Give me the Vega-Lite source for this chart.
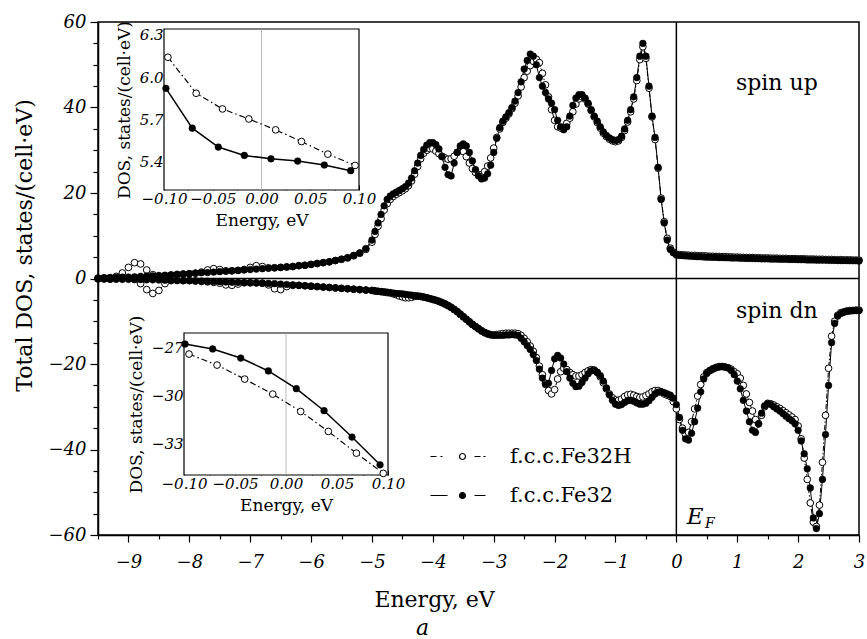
{
"$schema":"https://vega.github.io/schema/vega-lite/v6.json",
"width":761,"height":513,
"autosize":{"type":"none"},
"padding":{"left":98,"top":22,"right":8,"bottom":104},
"background":"white",
"config":{
 "font":"DejaVu Serif",
 "view":{"stroke":"black","strokeWidth":1.5},
 "axis":{"grid":false,"domainColor":"black","tickColor":"black","labelColor":"black","titleColor":"black","titleFontWeight":"normal","labelFont":"DejaVu Serif","titleFont":"DejaVu Serif","zindex":1,"labelOverlap":false,"labelFlush":false}
},
"title":{"text":"a","orient":"bottom","anchor":"middle","fontStyle":"italic","fontWeight":"normal","fontSize":22,"font":"DejaVu Serif","offset":8,"dx":-56,"color":"black"},
"datasets":{
"main":[
{"e":-9.5,"a":0.1,"b":0.1,"c":-0.1,"d":-0.1},
{"e":-9.4,"a":0.15,"b":0.15,"c":-0.1,"d":-0.1},
{"e":-9.3,"a":0.2,"b":0.2,"c":-0.15,"d":-0.15},
{"e":-9.2,"a":0.25,"b":0.5,"c":-0.15,"d":-0.1},
{"e":-9.1,"a":0.3,"b":1.3,"c":-0.2,"d":0.0},
{"e":-9.0,"a":0.35,"b":2.6,"c":-0.2,"d":0.1},
{"e":-8.9,"a":0.4,"b":3.7,"c":-0.25,"d":-0.2},
{"e":-8.8,"a":0.5,"b":3.4,"c":-0.25,"d":-1.2},
{"e":-8.7,"a":0.55,"b":2.0,"c":-0.3,"d":-2.6},
{"e":-8.6,"a":0.6,"b":0.9,"c":-0.3,"d":-3.5},
{"e":-8.5,"a":0.7,"b":0.6,"c":-0.35,"d":-2.8},
{"e":-8.4,"a":0.75,"b":0.7,"c":-0.4,"d":-1.2},
{"e":-8.3,"a":0.85,"b":0.8,"c":-0.4,"d":-0.5},
{"e":-8.2,"a":0.95,"b":0.95,"c":-0.45,"d":-0.45},
{"e":-8.1,"a":1.05,"b":1.05,"c":-0.5,"d":-0.5},
{"e":-8.0,"a":1.15,"b":1.1,"c":-0.5,"d":-0.5},
{"e":-7.9,"a":1.25,"b":1.25,"c":-0.55,"d":-0.6},
{"e":-7.8,"a":1.35,"b":1.5,"c":-0.6,"d":-0.7},
{"e":-7.7,"a":1.4,"b":2.0,"c":-0.65,"d":-0.8},
{"e":-7.6,"a":1.5,"b":2.3,"c":-0.7,"d":-0.9},
{"e":-7.5,"a":1.6,"b":2.1,"c":-0.75,"d":-1.1},
{"e":-7.4,"a":1.7,"b":1.8,"c":-0.8,"d":-1.5},
{"e":-7.3,"a":1.8,"b":1.8,"c":-0.85,"d":-1.6},
{"e":-7.2,"a":1.9,"b":1.9,"c":-0.9,"d":-1.3},
{"e":-7.1,"a":2.0,"b":2.1,"c":-0.95,"d":-1.0},
{"e":-7.0,"a":2.1,"b":2.6,"c":-1.0,"d":-1.0},
{"e":-6.9,"a":2.2,"b":3.0,"c":-1.05,"d":-1.0},
{"e":-6.8,"a":2.3,"b":2.8,"c":-1.1,"d":-1.1},
{"e":-6.7,"a":2.4,"b":2.5,"c":-1.15,"d":-1.5},
{"e":-6.6,"a":2.5,"b":2.5,"c":-1.2,"d":-2.4},
{"e":-6.5,"a":2.6,"b":2.6,"c":-1.3,"d":-2.6},
{"e":-6.4,"a":2.7,"b":2.7,"c":-1.4,"d":-1.9},
{"e":-6.3,"a":2.8,"b":2.8,"c":-1.5,"d":-1.6},
{"e":-6.2,"a":3.0,"b":3.0,"c":-1.6,"d":-1.6},
{"e":-6.1,"a":3.1,"b":3.1,"c":-1.7,"d":-1.7},
{"e":-6.0,"a":3.3,"b":3.3,"c":-1.8,"d":-1.8},
{"e":-5.9,"a":3.5,"b":3.5,"c":-1.9,"d":-1.9},
{"e":-5.8,"a":3.7,"b":3.7,"c":-2.0,"d":-2.0},
{"e":-5.7,"a":3.9,"b":3.9,"c":-2.1,"d":-2.1},
{"e":-5.6,"a":4.2,"b":4.2,"c":-2.2,"d":-2.2},
{"e":-5.5,"a":4.5,"b":4.5,"c":-2.3,"d":-2.3},
{"e":-5.4,"a":4.9,"b":4.8,"c":-2.4,"d":-2.4},
{"e":-5.3,"a":5.4,"b":5.3,"c":-2.5,"d":-2.5},
{"e":-5.2,"a":6.0,"b":5.9,"c":-2.6,"d":-2.6},
{"e":-5.1,"a":7.0,"b":6.8,"c":-2.7,"d":-2.7},
{"e":-5.0,"a":9.0,"b":8.5,"c":-2.8,"d":-2.8},
{"e":-4.95,"a":11.0,"b":10.3,"c":-2.9,"d":-2.9},
{"e":-4.9,"a":13.0,"b":12.2,"c":-3.0,"d":-3.0},
{"e":-4.85,"a":15.0,"b":14.0,"c":-3.05,"d":-3.1},
{"e":-4.8,"a":17.0,"b":16.0,"c":-3.1,"d":-3.2},
{"e":-4.75,"a":18.5,"b":17.5,"c":-3.2,"d":-3.3},
{"e":-4.7,"a":19.3,"b":18.5,"c":-3.3,"d":-3.4},
{"e":-4.65,"a":19.8,"b":19.2,"c":-3.4,"d":-3.6},
{"e":-4.6,"a":20.2,"b":19.7,"c":-3.5,"d":-3.8},
{"e":-4.55,"a":20.6,"b":20.1,"c":-3.55,"d":-4.1},
{"e":-4.5,"a":21.0,"b":20.5,"c":-3.6,"d":-4.3},
{"e":-4.45,"a":21.5,"b":21.0,"c":-3.7,"d":-4.5},
{"e":-4.4,"a":22.3,"b":21.7,"c":-3.8,"d":-4.5},
{"e":-4.35,"a":23.5,"b":22.8,"c":-3.9,"d":-4.4},
{"e":-4.3,"a":25.2,"b":24.4,"c":-4.0,"d":-4.2},
{"e":-4.25,"a":27.0,"b":26.2,"c":-4.1,"d":-4.1},
{"e":-4.2,"a":28.8,"b":28.0,"c":-4.2,"d":-4.2},
{"e":-4.15,"a":30.2,"b":29.3,"c":-4.35,"d":-4.35},
{"e":-4.1,"a":31.2,"b":30.0,"c":-4.5,"d":-4.5},
{"e":-4.05,"a":31.8,"b":30.4,"c":-4.7,"d":-4.7},
{"e":-4.0,"a":31.8,"b":30.3,"c":-4.9,"d":-4.9},
{"e":-3.95,"a":31.3,"b":29.8,"c":-5.1,"d":-5.1},
{"e":-3.9,"a":30.3,"b":29.2,"c":-5.4,"d":-5.3},
{"e":-3.85,"a":28.5,"b":28.6,"c":-5.7,"d":-5.6},
{"e":-3.8,"a":26.0,"b":28.2,"c":-6.0,"d":-5.9},
{"e":-3.75,"a":24.3,"b":27.9,"c":-6.4,"d":-6.3},
{"e":-3.7,"a":24.0,"b":28.0,"c":-6.8,"d":-6.7},
{"e":-3.65,"a":27.0,"b":28.6,"c":-7.3,"d":-7.2},
{"e":-3.6,"a":29.5,"b":29.5,"c":-7.8,"d":-7.7},
{"e":-3.55,"a":31.0,"b":30.0,"c":-8.4,"d":-8.3},
{"e":-3.5,"a":31.5,"b":29.7,"c":-9.0,"d":-8.9},
{"e":-3.45,"a":31.0,"b":28.5,"c":-9.6,"d":-9.5},
{"e":-3.4,"a":29.5,"b":27.0,"c":-10.2,"d":-10.1},
{"e":-3.35,"a":27.5,"b":25.7,"c":-10.8,"d":-10.7},
{"e":-3.3,"a":25.5,"b":24.8,"c":-11.3,"d":-11.2},
{"e":-3.25,"a":24.0,"b":24.3,"c":-11.8,"d":-11.7},
{"e":-3.2,"a":23.3,"b":24.3,"c":-12.3,"d":-12.2},
{"e":-3.15,"a":23.5,"b":25.0,"c":-12.7,"d":-12.6},
{"e":-3.1,"a":24.5,"b":26.3,"c":-13.0,"d":-12.9},
{"e":-3.05,"a":26.5,"b":28.2,"c":-13.2,"d":-13.1},
{"e":-3.0,"a":29.5,"b":30.5,"c":-13.3,"d":-13.2},
{"e":-2.95,"a":32.8,"b":33.0,"c":-13.3,"d":-13.1},
{"e":-2.9,"a":35.3,"b":35.0,"c":-13.3,"d":-13.0},
{"e":-2.85,"a":36.8,"b":36.5,"c":-13.3,"d":-12.9},
{"e":-2.8,"a":37.8,"b":37.5,"c":-13.2,"d":-12.8},
{"e":-2.75,"a":38.8,"b":38.5,"c":-13.2,"d":-12.8},
{"e":-2.7,"a":40.0,"b":39.7,"c":-13.1,"d":-12.8},
{"e":-2.65,"a":41.5,"b":41.0,"c":-13.2,"d":-12.8},
{"e":-2.6,"a":43.5,"b":42.7,"c":-13.3,"d":-12.9},
{"e":-2.55,"a":46.0,"b":44.8,"c":-14.0,"d":-13.3},
{"e":-2.5,"a":49.0,"b":47.0,"c":-14.8,"d":-14.0},
{"e":-2.45,"a":51.0,"b":48.5,"c":-15.7,"d":-14.8},
{"e":-2.4,"a":52.5,"b":49.8,"c":-16.6,"d":-15.8},
{"e":-2.35,"a":52.0,"b":50.8,"c":-17.8,"d":-17.0},
{"e":-2.3,"a":50.0,"b":51.3,"c":-19.2,"d":-18.5},
{"e":-2.25,"a":47.0,"b":50.5,"c":-21.2,"d":-20.5},
{"e":-2.2,"a":45.0,"b":48.0,"c":-23.3,"d":-22.5},
{"e":-2.15,"a":43.5,"b":45.3,"c":-24.8,"d":-24.5},
{"e":-2.1,"a":42.0,"b":42.5,"c":-24.5,"d":-26.2},
{"e":-2.05,"a":41.0,"b":39.5,"c":-21.5,"d":-27.0},
{"e":-2.0,"a":39.5,"b":37.0,"c":-18.8,"d":-26.0},
{"e":-1.95,"a":37.0,"b":35.5,"c":-18.0,"d":-23.5},
{"e":-1.9,"a":35.5,"b":35.2,"c":-18.6,"d":-21.8},
{"e":-1.85,"a":34.8,"b":35.4,"c":-20.0,"d":-21.0},
{"e":-1.8,"a":35.5,"b":36.3,"c":-21.8,"d":-21.3},
{"e":-1.75,"a":38.0,"b":37.5,"c":-23.3,"d":-22.0},
{"e":-1.7,"a":40.5,"b":39.0,"c":-24.5,"d":-22.5},
{"e":-1.65,"a":42.2,"b":40.8,"c":-25.3,"d":-22.8},
{"e":-1.6,"a":43.0,"b":42.0,"c":-25.2,"d":-22.8},
{"e":-1.55,"a":43.0,"b":42.5,"c":-24.3,"d":-22.5},
{"e":-1.5,"a":42.2,"b":42.0,"c":-23.3,"d":-22.0},
{"e":-1.45,"a":41.0,"b":40.8,"c":-22.3,"d":-21.6},
{"e":-1.4,"a":39.5,"b":39.3,"c":-21.6,"d":-21.3},
{"e":-1.35,"a":38.0,"b":37.8,"c":-21.5,"d":-21.4},
{"e":-1.3,"a":36.8,"b":36.5,"c":-21.9,"d":-22.0},
{"e":-1.25,"a":35.5,"b":35.2,"c":-22.7,"d":-23.0},
{"e":-1.2,"a":34.3,"b":34.0,"c":-24.0,"d":-24.4},
{"e":-1.15,"a":33.5,"b":33.2,"c":-25.6,"d":-25.8},
{"e":-1.1,"a":32.9,"b":32.6,"c":-27.2,"d":-27.0},
{"e":-1.05,"a":32.5,"b":32.2,"c":-28.5,"d":-27.9},
{"e":-1.0,"a":32.3,"b":32.0,"c":-29.4,"d":-28.4},
{"e":-0.95,"a":32.5,"b":32.2,"c":-29.7,"d":-28.5},
{"e":-0.9,"a":33.3,"b":33.0,"c":-29.5,"d":-28.2},
{"e":-0.85,"a":35.0,"b":34.6,"c":-29.0,"d":-27.6},
{"e":-0.8,"a":37.0,"b":36.6,"c":-28.6,"d":-27.2},
{"e":-0.75,"a":39.5,"b":39.0,"c":-28.5,"d":-27.1},
{"e":-0.7,"a":42.5,"b":42.0,"c":-28.7,"d":-27.3},
{"e":-0.65,"a":47.0,"b":46.3,"c":-29.1,"d":-27.6},
{"e":-0.6,"a":52.0,"b":51.2,"c":-29.4,"d":-27.8},
{"e":-0.55,"a":55.0,"b":54.2,"c":-29.4,"d":-27.7},
{"e":-0.5,"a":52.0,"b":51.5,"c":-29.2,"d":-27.4},
{"e":-0.45,"a":45.0,"b":44.5,"c":-28.6,"d":-27.0},
{"e":-0.4,"a":38.0,"b":37.8,"c":-27.8,"d":-26.5},
{"e":-0.35,"a":33.0,"b":32.5,"c":-27.0,"d":-26.2},
{"e":-0.3,"a":26.0,"b":25.8,"c":-26.6,"d":-26.2},
{"e":-0.25,"a":18.5,"b":18.8,"c":-26.5,"d":-26.5},
{"e":-0.2,"a":13.0,"b":13.3,"c":-26.7,"d":-27.0},
{"e":-0.15,"a":9.0,"b":9.4,"c":-27.0,"d":-27.3},
{"e":-0.1,"a":6.8,"b":7.1,"c":-27.3,"d":-27.6},
{"e":-0.05,"a":6.0,"b":6.2,"c":-28.0,"d":-28.8},
{"e":0.0,"a":5.5,"b":5.7,"c":-29.5,"d":-30.5},
{"e":0.05,"a":5.4,"b":5.6,"c":-32.5,"d":-33.0},
{"e":0.1,"a":5.35,"b":5.55,"c":-35.5,"d":-35.0},
{"e":0.15,"a":5.3,"b":5.5,"c":-37.5,"d":-36.5},
{"e":0.2,"a":5.25,"b":5.45,"c":-37.8,"d":-36.0},
{"e":0.25,"a":5.2,"b":5.4,"c":-36.2,"d":-33.5},
{"e":0.3,"a":5.15,"b":5.4,"c":-33.5,"d":-30.5},
{"e":0.35,"a":5.1,"b":5.35,"c":-30.3,"d":-27.5},
{"e":0.4,"a":5.1,"b":5.3,"c":-26.5,"d":-24.8},
{"e":0.45,"a":5.05,"b":5.3,"c":-23.5,"d":-23.0},
{"e":0.5,"a":5.0,"b":5.25,"c":-22.2,"d":-22.0},
{"e":0.55,"a":5.0,"b":5.2,"c":-21.6,"d":-21.5},
{"e":0.6,"a":4.95,"b":5.2,"c":-21.2,"d":-21.1},
{"e":0.65,"a":4.95,"b":5.15,"c":-20.9,"d":-20.8},
{"e":0.7,"a":4.9,"b":5.15,"c":-20.7,"d":-20.6},
{"e":0.75,"a":4.9,"b":5.1,"c":-20.6,"d":-20.6},
{"e":0.8,"a":4.85,"b":5.1,"c":-20.7,"d":-20.7},
{"e":0.85,"a":4.85,"b":5.05,"c":-20.9,"d":-20.9},
{"e":0.9,"a":4.8,"b":5.05,"c":-21.5,"d":-21.2},
{"e":0.95,"a":4.8,"b":5.0,"c":-22.5,"d":-21.8},
{"e":1.0,"a":4.8,"b":5.0,"c":-24.0,"d":-22.3},
{"e":1.05,"a":4.75,"b":4.95,"c":-25.8,"d":-23.3},
{"e":1.1,"a":4.75,"b":4.95,"c":-28.5,"d":-25.0},
{"e":1.15,"a":4.7,"b":4.9,"c":-31.0,"d":-27.0},
{"e":1.2,"a":4.7,"b":4.9,"c":-33.5,"d":-29.0},
{"e":1.25,"a":4.7,"b":4.9,"c":-35.5,"d":-31.0},
{"e":1.3,"a":4.65,"b":4.85,"c":-36.0,"d":-33.0},
{"e":1.35,"a":4.65,"b":4.85,"c":-34.0,"d":-34.0},
{"e":1.4,"a":4.6,"b":4.8,"c":-31.5,"d":-32.0},
{"e":1.45,"a":4.6,"b":4.8,"c":-29.8,"d":-30.0},
{"e":1.5,"a":4.6,"b":4.8,"c":-29.3,"d":-29.2},
{"e":1.55,"a":4.55,"b":4.75,"c":-29.5,"d":-29.3},
{"e":1.6,"a":4.55,"b":4.75,"c":-30.0,"d":-29.6},
{"e":1.65,"a":4.55,"b":4.75,"c":-30.5,"d":-30.0},
{"e":1.7,"a":4.5,"b":4.7,"c":-31.0,"d":-30.4},
{"e":1.75,"a":4.5,"b":4.7,"c":-31.6,"d":-30.9},
{"e":1.8,"a":4.5,"b":4.7,"c":-32.2,"d":-31.4},
{"e":1.85,"a":4.45,"b":4.65,"c":-32.8,"d":-31.9},
{"e":1.9,"a":4.45,"b":4.65,"c":-33.3,"d":-32.4},
{"e":1.95,"a":4.45,"b":4.65,"c":-34.0,"d":-33.0},
{"e":2.0,"a":4.4,"b":4.6,"c":-35.5,"d":-34.5},
{"e":2.05,"a":4.4,"b":4.6,"c":-38.0,"d":-37.5},
{"e":2.1,"a":4.4,"b":4.6,"c":-41.0,"d":-42.0},
{"e":2.15,"a":4.35,"b":4.55,"c":-44.5,"d":-47.0},
{"e":2.2,"a":4.35,"b":4.55,"c":-49.0,"d":-52.5},
{"e":2.25,"a":4.35,"b":4.55,"c":-56.0,"d":-57.0},
{"e":2.3,"a":4.3,"b":4.5,"c":-58.5,"d":-58.0},
{"e":2.35,"a":4.3,"b":4.5,"c":-55.0,"d":-53.0},
{"e":2.4,"a":4.3,"b":4.5,"c":-47.0,"d":-43.0},
{"e":2.45,"a":4.3,"b":4.45,"c":-36.5,"d":-32.0},
{"e":2.5,"a":4.25,"b":4.45,"c":-25.0,"d":-21.0},
{"e":2.55,"a":4.25,"b":4.45,"c":-15.0,"d":-13.5},
{"e":2.6,"a":4.25,"b":4.4,"c":-10.5,"d":-10.0},
{"e":2.65,"a":4.2,"b":4.4,"c":-8.8,"d":-8.6},
{"e":2.7,"a":4.2,"b":4.4,"c":-8.2,"d":-8.0},
{"e":2.75,"a":4.2,"b":4.35,"c":-7.9,"d":-7.8},
{"e":2.8,"a":4.2,"b":4.35,"c":-7.7,"d":-7.6},
{"e":2.85,"a":4.15,"b":4.35,"c":-7.6,"d":-7.5},
{"e":2.9,"a":4.15,"b":4.3,"c":-7.5,"d":-7.5},
{"e":2.95,"a":4.15,"b":4.3,"c":-7.5,"d":-7.4},
{"e":3.0,"a":4.1,"b":4.3,"c":-7.5,"d":-7.4}
],
"ins1":[
{"e":-0.096,"v":6.14,"s":"H"},{"e":-0.067,"v":5.885,"s":"H"},{"e":-0.040,"v":5.774,"s":"H"},{"e":-0.013,"v":5.703,"s":"H"},
{"e":0.0145,"v":5.626,"s":"H"},{"e":0.041,"v":5.543,"s":"H"},{"e":0.068,"v":5.454,"s":"H"},{"e":0.096,"v":5.374,"s":"H"},
{"e":-0.098,"v":5.92,"s":"P"},{"e":-0.071,"v":5.638,"s":"P"},{"e":-0.0443,"v":5.504,"s":"P"},{"e":-0.0176,"v":5.445,"s":"P"},
{"e":0.0097,"v":5.421,"s":"P"},{"e":0.0371,"v":5.405,"s":"P"},{"e":0.0644,"v":5.377,"s":"P"},{"e":0.0915,"v":5.337,"s":"P"}
],
"ins2":[
{"e":-0.0951,"v":-27.42,"s":"H"},{"e":-0.0676,"v":-28.11,"s":"H"},{"e":-0.0405,"v":-28.99,"s":"H"},{"e":-0.013,"v":-29.93,"s":"H"},
{"e":0.0144,"v":-31.02,"s":"H"},{"e":0.0415,"v":-32.27,"s":"H"},{"e":0.069,"v":-33.63,"s":"H"},{"e":0.0954,"v":-34.9,"s":"H"},
{"e":-0.099,"v":-26.79,"s":"P"},{"e":-0.0719,"v":-27.10,"s":"P"},{"e":-0.0444,"v":-27.67,"s":"P"},{"e":-0.0173,"v":-28.48,"s":"P"},
{"e":0.0101,"v":-29.59,"s":"P"},{"e":0.0373,"v":-30.97,"s":"P"},{"e":0.0647,"v":-32.62,"s":"P"},{"e":0.0922,"v":-34.36,"s":"P"}
]
},
"layer":[
{"data":{"values":[{}]},"mark":{"type":"point","opacity":0},
 "encoding":{
  "x":{"datum":-9.5,"type":"quantitative","scale":{"domain":[-9.5,3],"nice":false,"zero":false},
   "axis":{"orient":"bottom","title":"Energy, eV","titleFontSize":22,"titlePadding":18,"titleX":336,"values":[-9,-8,-7,-6,-5,-4,-3,-2,-1,0,1,2,3],"format":"d","labelFontStyle":"italic","labelFontSize":18,"labelPadding":11,"tickSize":7,"tickWidth":1.2,"domainWidth":1.5}},
  "y":{"datum":-60,"type":"quantitative","scale":{"domain":[-60,60],"nice":false,"zero":false},
   "axis":{"orient":"left","title":"Total DOS, states/(cell·eV)","titleFontSize":22,"titlePadding":12,"titleY":223,"values":[-60,-40,-20,0,20,40,60],"format":"d","labelFontStyle":"italic","labelFontSize":18,"labelPadding":4,"tickSize":8,"tickWidth":1.2,"domainWidth":1.5}}
 }},
{"data":{"values":[{}]},"mark":{"type":"point","opacity":0},
 "encoding":{
  "x":{"datum":-9.5,"type":"quantitative","scale":{"domain":[-9.5,3],"nice":false,"zero":false},
   "axis":{"orient":"bottom","title":null,"labels":false,"domain":false,"values":[-9.5,-8.5,-7.5,-6.5,-5.5,-4.5,-3.5,-2.5,-1.5,-0.5,0.5,1.5,2.5],"tickSize":4,"tickWidth":1.2}},
  "y":{"datum":-60,"type":"quantitative","scale":{"domain":[-60,60],"nice":false,"zero":false},
   "axis":{"orient":"left","title":null,"labels":false,"domain":false,"values":[-55,-45,-35,-25,-15,-5,5,15,25,35,45,55],"tickSize":5,"tickWidth":1.2}}
 }},
{"data":{"values":[{}]},"mark":{"type":"point","opacity":0},
 "encoding":{
  "y":{"datum":-60,"type":"quantitative","scale":{"domain":[-60,60],"nice":false,"zero":false},
   "axis":{"orient":"left","title":null,"labels":false,"domain":false,"values":[-50,-30,-10,10,30,50],"tickSize":5,"tickWidth":1.2}}
 }},
{"layer":[
 {"data":{"name":"main"},"transform":[{"fold":["b","d"],"as":["k","v"]}],
  "mark":{"type":"line","color":"black","strokeWidth":1,"strokeDash":[5,2,1.5,2]},
  "encoding":{
   "x":{"field":"e","type":"quantitative","scale":{"domain":[-9.5,3],"nice":false,"zero":false},"axis":null},
   "y":{"field":"v","type":"quantitative","scale":{"domain":[-60,60],"nice":false,"zero":false},"axis":null},
   "detail":{"field":"k"}
  }},
 {"data":{"name":"main"},"transform":[{"fold":["a","c"],"as":["k","v"]}],
  "mark":{"type":"line","color":"black","strokeWidth":1},
  "encoding":{"x":{"field":"e","type":"quantitative","axis":null},"y":{"field":"v","type":"quantitative","axis":null},"detail":{"field":"k"}}},
 {"data":{"values":[{}]},"mark":{"type":"rule","color":"black","strokeWidth":1.5},"encoding":{"y":{"datum":0,"axis":null}}},
 {"data":{"values":[{}]},"mark":{"type":"rule","color":"black","strokeWidth":1.5},"encoding":{"x":{"datum":0,"axis":null}}},
 {"data":{"name":"main"},"transform":[{"fold":["b","d"],"as":["k","v"]}],
  "mark":{"type":"point","shape":"circle","filled":true,"fill":"white","stroke":"black","strokeWidth":1,"size":45,"opacity":1},
  "encoding":{"x":{"field":"e","type":"quantitative","axis":null},"y":{"field":"v","type":"quantitative","axis":null}}},
 {"data":{"name":"main"},"transform":[{"fold":["a","c"],"as":["k","v"]}],
  "mark":{"type":"point","shape":"circle","filled":true,"fill":"black","stroke":"black","strokeWidth":0.5,"size":45,"opacity":1},
  "encoding":{"x":{"field":"e","type":"quantitative","axis":null},"y":{"field":"v","type":"quantitative","axis":null}}},
 {"data":{"values":[{}]},"mark":{"type":"text","text":"spin up","fontSize":22,"font":"DejaVu Serif","color":"black"},"encoding":{"x":{"datum":1.65,"axis":null},"y":{"datum":45.8,"axis":null}}},
 {"data":{"values":[{}]},"mark":{"type":"text","text":"spin dn","fontSize":22,"font":"DejaVu Serif","color":"black"},"encoding":{"x":{"datum":1.65,"axis":null},"y":{"datum":-7.5,"axis":null}}},
 {"data":{"values":[{}]},"mark":{"type":"text","text":"E","fontSize":23,"fontStyle":"italic","font":"DejaVu Serif","color":"black"},"encoding":{"x":{"datum":0.31,"axis":null},"y":{"datum":-55.8,"axis":null}}},
 {"data":{"values":[{}]},"mark":{"type":"text","text":"F","fontSize":14,"fontStyle":"italic","font":"DejaVu Serif","color":"black"},"encoding":{"x":{"datum":0.55,"axis":null},"y":{"datum":-57.5,"axis":null}}}
]},
{"data":{"values":[{}]},"mark":{"type":"rect","fill":"white","stroke":"black","strokeWidth":1.2},
 "encoding":{
  "x":{"datum":-0.1,"type":"quantitative","scale":{"domain":[-0.1,0.1],"range":[66,261],"nice":false,"zero":false},
   "axis":{"orient":"bottom","offset":-345,"title":"Energy, eV","titleFontSize":17,"titlePadding":4,"values":[-0.1,-0.075,-0.05,-0.025,0,0.025,0.05,0.075,0.1],"format":".2f","labelExpr":"round(datum.value*100) % 5 === 0 ? datum.label : ''","labelFontStyle":"italic","labelFontSize":15,"labelPadding":6,"tickSize":{"condition":{"test":"round(datum.value*100) % 5 === 0","value":-5},"value":-3},"domain":false}},
  "x2":{"datum":0.1},
  "y":{"datum":5.2,"type":"quantitative","scale":{"domain":[5.2,6.34],"range":[168,7],"nice":false,"zero":false},
   "axis":{"orient":"left","offset":-66,"title":"DOS, states/(cell·eV)","titleFontSize":17,"titlePadding":6,"values":[5.25,5.4,5.55,5.7,5.85,6,6.15,6.3],"format":".1f","labelExpr":"round(datum.value*10) % 3 === 0 && abs(datum.value*10 - round(datum.value*10)) < 0.01 ? datum.label : ''","labelFontStyle":"italic","labelFontSize":15,"labelPadding":6,"tickSize":{"condition":{"test":"round(datum.value*10) % 3 === 0 && abs(datum.value*10 - round(datum.value*10)) < 0.01","value":-5},"value":-3},"domain":false}},
  "y2":{"datum":6.34}}},
{"layer":[
 {"data":{"values":[{}]},"mark":{"type":"rule","color":"#aaaaaa","strokeWidth":0.8},"encoding":{"x":{"datum":0,"type":"quantitative","scale":{"domain":[-0.1,0.1],"range":[66,261],"nice":false,"zero":false},"axis":null},"y":{"datum":5.2,"type":"quantitative","scale":{"domain":[5.2,6.34],"range":[168,7],"nice":false,"zero":false},"axis":null},"y2":{"datum":6.34}}},
 {"data":{"name":"ins1"},"transform":[{"filter":"datum.s === 'H'"}],"mark":{"type":"line","color":"black","strokeWidth":1.2,"strokeDash":[6,3,1.5,3]},"encoding":{"x":{"field":"e","type":"quantitative","axis":null},"y":{"field":"v","type":"quantitative","axis":null}}},
 {"data":{"name":"ins1"},"transform":[{"filter":"datum.s === 'P'"}],"mark":{"type":"line","color":"black","strokeWidth":1.5},"encoding":{"x":{"field":"e","type":"quantitative","axis":null},"y":{"field":"v","type":"quantitative","axis":null}}},
 {"data":{"name":"ins1"},"transform":[{"filter":"datum.s === 'H'"}],"mark":{"type":"point","shape":"circle","filled":true,"fill":"white","stroke":"black","strokeWidth":1,"size":45,"opacity":1},"encoding":{"x":{"field":"e","type":"quantitative","axis":null},"y":{"field":"v","type":"quantitative","axis":null}}},
 {"data":{"name":"ins1"},"transform":[{"filter":"datum.s === 'P'"}],"mark":{"type":"point","shape":"circle","filled":true,"fill":"black","stroke":"black","strokeWidth":0.5,"size":45,"opacity":1},"encoding":{"x":{"field":"e","type":"quantitative","axis":null},"y":{"field":"v","type":"quantitative","axis":null}}}
]},
{"data":{"values":[{}]},"mark":{"type":"rect","fill":"white","stroke":"black","strokeWidth":1.2},
 "encoding":{
  "x":{"datum":-0.1,"type":"quantitative","scale":{"domain":[-0.1,0.1],"range":[86,290],"nice":false,"zero":false},
   "axis":{"orient":"bottom","offset":-60,"title":"Energy, eV","titleFontSize":17,"titlePadding":4,"values":[-0.1,-0.075,-0.05,-0.025,0,0.025,0.05,0.075,0.1],"format":".2f","labelExpr":"round(datum.value*100) % 5 === 0 ? datum.label : ''","labelFontStyle":"italic","labelFontSize":15,"labelPadding":6,"tickSize":{"condition":{"test":"round(datum.value*100) % 5 === 0","value":-5},"value":-3},"domain":false}},
  "x2":{"datum":0.1},
  "y":{"datum":-35,"type":"quantitative","scale":{"domain":[-35,-26.1],"range":[453,311],"nice":false,"zero":false},
   "axis":{"orient":"left","offset":-86,"title":"DOS, states/(cell·eV)","titleFontSize":17,"titlePadding":6,"values":[-34.5,-33,-31.5,-30,-28.5,-27],"format":"d","labelExpr":"datum.value % 3 === 0 ? datum.label : ''","labelFontStyle":"italic","labelFontSize":15,"labelPadding":6,"tickSize":{"condition":{"test":"datum.value % 3 === 0","value":-5},"value":-3},"domain":false}},
  "y2":{"datum":-26.1}}},
{"layer":[
 {"data":{"values":[{}]},"mark":{"type":"rule","color":"#aaaaaa","strokeWidth":0.8},"encoding":{"x":{"datum":0,"type":"quantitative","scale":{"domain":[-0.1,0.1],"range":[86,290],"nice":false,"zero":false},"axis":null},"y":{"datum":-35,"type":"quantitative","scale":{"domain":[-35,-26.1],"range":[453,311],"nice":false,"zero":false},"axis":null},"y2":{"datum":-26.1}}},
 {"data":{"name":"ins2"},"transform":[{"filter":"datum.s === 'H'"}],"mark":{"type":"line","color":"black","strokeWidth":1.2,"strokeDash":[6,3,1.5,3]},"encoding":{"x":{"field":"e","type":"quantitative","axis":null},"y":{"field":"v","type":"quantitative","axis":null}}},
 {"data":{"name":"ins2"},"transform":[{"filter":"datum.s === 'P'"}],"mark":{"type":"line","color":"black","strokeWidth":1.5},"encoding":{"x":{"field":"e","type":"quantitative","axis":null},"y":{"field":"v","type":"quantitative","axis":null}}},
 {"data":{"name":"ins2"},"transform":[{"filter":"datum.s === 'H'"}],"mark":{"type":"point","shape":"circle","filled":true,"fill":"white","stroke":"black","strokeWidth":1,"size":45,"opacity":1},"encoding":{"x":{"field":"e","type":"quantitative","axis":null},"y":{"field":"v","type":"quantitative","axis":null}}},
 {"data":{"name":"ins2"},"transform":[{"filter":"datum.s === 'P'"}],"mark":{"type":"point","shape":"circle","filled":true,"fill":"black","stroke":"black","strokeWidth":0.5,"size":45,"opacity":1},"encoding":{"x":{"field":"e","type":"quantitative","axis":null},"y":{"field":"v","type":"quantitative","axis":null}}}
]},
{"data":{"values":[]},
 "mark":{"type":"point","filled":true,"stroke":"black","strokeWidth":1.2,"size":100,"opacity":1},
 "encoding":{
  "shape":{"field":"s","type":"nominal","scale":{"domain":["f.c.c.Fe32H","f.c.c.Fe32"],"range":["M-6.4,0L-5.2,0M-4.4,0L-4,0M0.6,0A0.6,0.6,0,1,1,-0.6,0A0.6,0.6,0,1,1,0.6,0ZM2.4,0L3.6,0M4.2,0L4.6,0","M-6.4,0L-3,0M0.6,0A0.6,0.6,0,1,1,-0.6,0A0.6,0.6,0,1,1,0.6,0ZM2.4,0L4.6,0"]},
   "legend":{"title":null,"orient":"none","legendX":354,"legendY":424,"labelFontSize":21,"labelFont":"DejaVu Serif","labelColor":"black","labelOffset":37,"rowPadding":17,"symbolStrokeColor":"black","symbolStrokeWidth":1.2,"symbolOpacity":1,"padding":0,"symbolSize":100}},
  "fill":{"field":"s","type":"nominal","scale":{"domain":["f.c.c.Fe32H","f.c.c.Fe32"],"range":["white","black"]},
   "legend":{"title":null,"orient":"none","legendX":354,"legendY":424,"labelFontSize":21,"labelFont":"DejaVu Serif","labelColor":"black","labelOffset":37,"rowPadding":17,"symbolStrokeColor":"black","symbolStrokeWidth":1.2,"symbolOpacity":1,"padding":0,"symbolSize":100}},
  "stroke":{"field":"s","type":"nominal","scale":{"domain":["f.c.c.Fe32H","f.c.c.Fe32"],"range":["black","black"]},
   "legend":{"title":null,"orient":"none","legendX":354,"legendY":424,"labelFontSize":21,"labelFont":"DejaVu Serif","labelColor":"black","labelOffset":37,"rowPadding":17,"symbolStrokeColor":"black","symbolStrokeWidth":1.2,"symbolOpacity":1,"padding":0,"symbolSize":100}}
 }}
],
"resolve":{"scale":{"x":"independent","y":"independent"}}
}
